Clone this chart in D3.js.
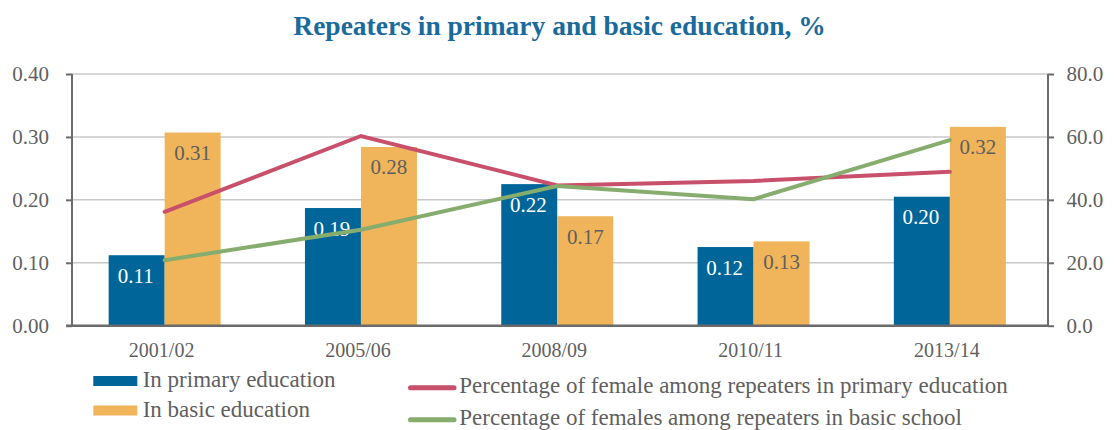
<!DOCTYPE html>
<html><head><meta charset="utf-8">
<script src="https://cdn.jsdelivr.net/npm/d3@7"></script>
<style>body{margin:0;background:#fff}svg{display:block}text{font-family:"Liberation Serif","DejaVu Serif",serif}</style>
</head><body>
<svg id="c" width="1115" height="430"></svg>
<script>
const categories = ["2001/02","2005/06","2008/09","2010/11","2013/14"];
const primaryValues = [0.112,0.187,0.225,0.125,0.205];
const basicValues = [0.307,0.284,0.174,0.134,0.316];
const primaryLabels = ["0.11","0.19","0.22","0.12","0.20"];
const basicLabels = ["0.31","0.28","0.17","0.13","0.32"];
const femalePrimary = [36.2,60.3,44.6,46.0,48.9];
const femaleBasic = [20.8,30.5,44.4,40.2,59.0];
const leftTicks = [0,0.1,0.2,0.3,0.4];
const rightTicks = [0,20,40,60,80];
const seriesNames = ["In primary education","In basic education","Percentage of female among repeaters in primary education","Percentage of females among repeaters in basic school"];

const C = {blue:"#006699", orange:"#F0B55A", red:"#C8506A", green:"#86AD6E", axis:"#6b6b6b", grid:"#c8c8c8", text:"#5f5f5f", title:"#1a6a9c"};
const svg = d3.select("#c");
const pTop=74, pBottom=325.7, pLeft=72, pRight=1048;
const x = d3.scaleBand().domain(categories).range([66.5,1048]);
const yL = d3.scaleLinear().domain([0,0.4]).range([pBottom,pTop]);
const yR = d3.scaleLinear().domain([0,80]).range([pBottom,pTop]);
const bw = 56;

svg.append("text").attr("x",559.5).attr("y",35).attr("text-anchor","middle")
  .attr("font-size",27.5).attr("font-weight","bold").attr("fill",C.title)
  .text("Repeaters in primary and basic education, %");

// grid
svg.append("g").selectAll("line").data(leftTicks.filter(d=>d>0)).join("line")
  .attr("x1",pLeft).attr("x2",pRight).attr("y1",d=>yL(d)).attr("y2",d=>yL(d))
  .attr("stroke",C.grid).attr("stroke-width",1.5);

// bars
const g = svg.append("g");
categories.forEach((c,i)=>{
  const cx = x(c)+x.bandwidth()/2;
  g.append("rect").attr("x",cx-bw).attr("width",bw).attr("y",yL(primaryValues[i])).attr("height",pBottom-yL(primaryValues[i])).attr("fill",C.blue);
  g.append("rect").attr("x",cx).attr("width",bw).attr("y",yL(basicValues[i])).attr("height",pBottom-yL(basicValues[i])).attr("fill",C.orange);
  g.append("text").attr("x",cx-bw/2-1).attr("y",yL(primaryValues[i])+27.5).attr("text-anchor","middle").attr("font-size",21).attr("fill","#fff").text(primaryLabels[i]);
  g.append("text").attr("x",cx+bw/2).attr("y",yL(basicValues[i])+27.5).attr("text-anchor","middle").attr("font-size",21).attr("fill",C.text).text(basicLabels[i]);
});

// lines
const line = d3.line().x((d,i)=>x(categories[i])+x.bandwidth()/2).y(d=>yR(d));
svg.append("path").attr("d",line(femalePrimary)).attr("fill","none").attr("stroke",C.red).attr("stroke-width",4).attr("stroke-linecap","round");
svg.append("path").attr("d",line(femaleBasic)).attr("fill","none").attr("stroke",C.green).attr("stroke-width",4).attr("stroke-linecap","round");

// axes
const axL = svg.append("g").attr("transform",`translate(${pLeft},0)`)
  .call(d3.axisLeft(yL).tickValues(leftTicks).tickFormat(d3.format(".2f")).tickSize(6).tickPadding(17));
const axR = svg.append("g").attr("transform",`translate(${pRight},0)`)
  .call(d3.axisRight(yR).tickValues(rightTicks).tickFormat(d3.format(".1f")).tickSize(6).tickPadding(12.5));
[axL,axR].forEach(a=>{
  a.select(".domain").attr("stroke",C.axis).attr("stroke-width",2).attr("d",`M0,${pTop}V${pBottom}`);
  a.selectAll(".tick line").attr("stroke",C.axis).attr("stroke-width",2);
  a.selectAll("text").attr("font-size",21).attr("fill",C.text).attr("font-family","Liberation Serif");
});
const axB = svg.append("g").attr("transform",`translate(0,${pBottom})`).call(d3.axisBottom(x).tickSize(0).tickPadding(17));
axB.select(".domain").attr("stroke",C.axis).attr("stroke-width",2.5).attr("d",`M${66},0H${pRight}`);
axB.selectAll("text").attr("font-size",20).attr("fill",C.text).attr("font-family","Liberation Serif").attr("dx",-3);

// legend
const lg = svg.append("g");
const items = [
  {t:"rect",c:C.blue,x:93.3,y:381,ty:386.7,name:seriesNames[0]},
  {t:"rect",c:C.orange,x:93.3,y:410.5,ty:416.7,name:seriesNames[1]},
  {t:"line",c:C.red,x:408,y:387.7,ty:393.3,name:seriesNames[2]},
  {t:"line",c:C.green,x:408,y:419.7,ty:425,name:seriesNames[3]}
];
items.forEach(it=>{
  if(it.t==="rect") lg.append("rect").attr("x",it.x).attr("y",it.y-5).attr("width",44).attr("height",10).attr("fill",it.c);
  else lg.append("line").attr("x1",it.x+2.5).attr("x2",it.x+46).attr("y1",it.y).attr("y2",it.y).attr("stroke",it.c).attr("stroke-width",5).attr("stroke-linecap","round");
  lg.append("text").attr("x",it.t==="rect"?142.7:459.3).attr("y",it.ty).attr("font-size",23).attr("fill",C.text).text(it.name);
});
</script>
</body></html>
